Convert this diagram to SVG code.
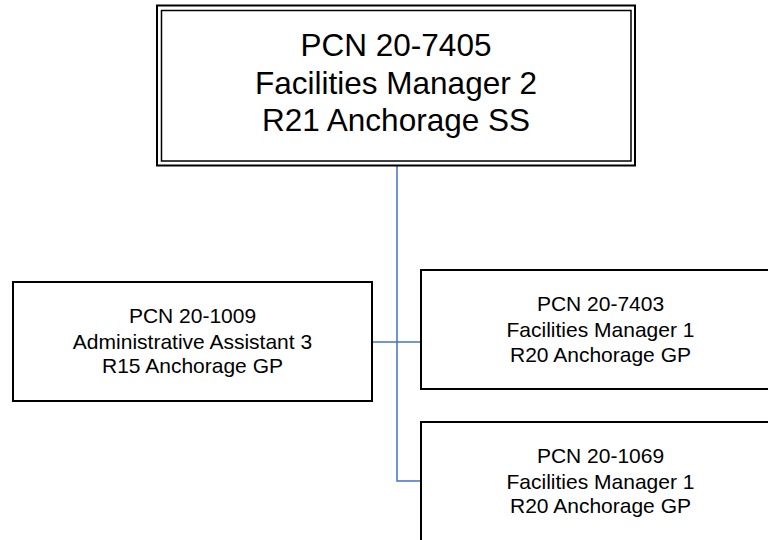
<svg xmlns="http://www.w3.org/2000/svg" width="768" height="540" viewBox="0 0 768 540">
<style>
.box{fill:#fff;stroke:#000;stroke-width:2}
.t{font-family:"Liberation Sans",Arial,sans-serif;fill:#000;text-anchor:middle}
.big{font-size:31.5px}
.sm{font-size:21px}
.conn{fill:none;stroke:#4472C4;stroke-width:1.5}
</style>
<rect width="768" height="540" fill="#fff"/>
<g id="connectors">
<path class="conn" d="M397 166 V481 H421"/>
<path class="conn" d="M372 342 H421"/>
</g>
<g id="n7405">
<rect x="157" y="5.5" width="478" height="160" fill="#fff" stroke="#000" stroke-width="2"/>
<rect x="161.5" y="10.5" width="469.5" height="150.5" fill="none" stroke="#000" stroke-width="1.5"/>
<text class="t big" x="396" y="56">PCN 20-7405</text>
<text class="t big" x="396" y="94">Facilities Manager 2</text>
<text class="t big" x="396" y="131">R21 Anchorage SS</text>
</g>
<g id="n1009">
<rect class="box" x="13" y="282" width="359" height="119"/>
<text class="t sm" x="192.5" y="323">PCN 20-1009</text>
<text class="t sm" x="192.5" y="349">Administrative Assistant 3</text>
<text class="t sm" x="192.5" y="373">R15 Anchorage GP</text>
</g>
<g id="n7403">
<rect class="box" x="421" y="270" width="359" height="119"/>
<text class="t sm" x="600.5" y="311">PCN 20-7403</text>
<text class="t sm" x="600.5" y="337">Facilities Manager 1</text>
<text class="t sm" x="600.5" y="362">R20 Anchorage GP</text>
</g>
<g id="n1069">
<rect class="box" x="421" y="422" width="359" height="119"/>
<text class="t sm" x="600.5" y="463">PCN 20-1069</text>
<text class="t sm" x="600.5" y="489">Facilities Manager 1</text>
<text class="t sm" x="600.5" y="513">R20 Anchorage GP</text>
</g>
</svg>
